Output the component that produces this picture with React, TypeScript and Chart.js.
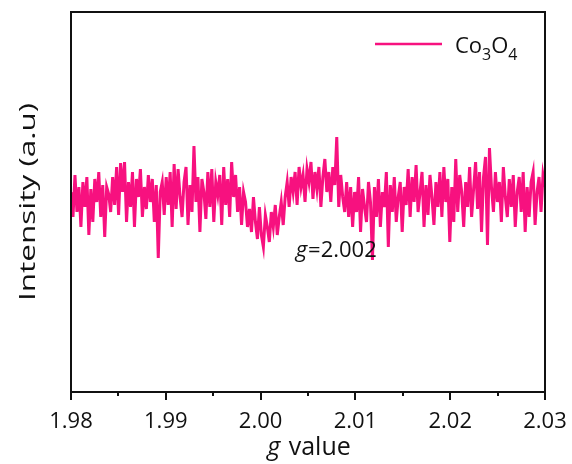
import React, { useEffect, useRef } from "react";
import { Chart, registerables } from "chart.js";

Chart.register(...registerables);

// ---- data ----
const gStart = 1.98;
const gEnd = 2.03;
const xMajorTicks = [1.98, 1.99, 2.0, 2.01, 2.02, 2.03];
const xMinorTicks = [1.985, 1.995, 2.005, 2.015, 2.025];
const seriesName = ["Co", "3", "O", "4"]; // Co3O4 with subscripts
const annotationText = ["g", "=2.002"];
const annotationAt = { g: 2.0037, y: -60 };
const xTitle = ["g", " value"];
const yTitle = "Intensity (a.u)";

// EPR signal (arbitrary units), evenly spaced from gStart to gEnd
const intensity = [
  5, -20, 22, -15, 10, -30, 15, -10, 20, -38,
  8, -25, 18, -5, 25, -20, 12, -40, 10, 3,
  -15, 20, -8, 30, -18, 34, 5, 35, -25, 15,
  -10, 25, -30, 18, 0, 28, -20, 10, -12, 22,
  -5, 18, -25, 12, -61, 5, 15, -18, 20, -8,
  25, -30, 33, -12, 28, 0, -20, 15, 30, -28,
  12, -15, 51, -5, 20, -35, 18, 5, -22, 25,
  -10, 28, -25, 15, 2, 22, -28, 30, -8, 18,
  -20, 35, 0, 22, -15, 10, -28, 5, -5, -30,
  -12, -35, 0, -25, -42, -10, -38, -50, -18, -30,
  -45, -15, -30, -8, -38, -20, -5, -28, 0, 15,
  -10, 20, 5, 25, -8, 30, 10, 22, -5, 28,
  15, 35, -2, 25, 8, 30, -10, 20, 38, 5,
  25, -5, 30, 12, 60, -10, 22, 0, -15, 15,
  -20, 10, -30, 5, -15, 20, -35, 8, -10, -25,
  15, -5, -63, 10, -20, 18, -30, 5, -10, 25,
  -50, 12, -15, 20, -25, 0, 15, -35, 10, -8,
  28, -20, 20, -5, 32, -15, 5, 25, -30, 12,
  -18, 22, 0, -28, 15, -10, 25, -20, 30, -5,
  18, -45, 10, -25, 38, -15, 22, 5, -30, 15,
  -10, 30, -20, 8, 35, -12, 25, -35, 20, 40,
  -48, 49, 10, -15, 25, -5, 15, -25, 30, 0,
  -20, 18, -10, 22, -30, 5, 20, -15, 25, -35,
  10, -20, 15, 25, -28, 5, 20, -15, 22, 10,
];

const LINE_COLOR = "#F7117F";
const FONT = "'Open Sans', sans-serif";

const decorPlugin = {
  id: "decor",
  afterDatasetsDraw(chart: any) {
    const { ctx, chartArea } = chart;
    const xs = chart.scales.x;
    const ys = chart.scales.y;
    const { left, right, top, bottom } = chartArea;
    ctx.save();
    // frame
    ctx.strokeStyle = "#111";
    ctx.lineWidth = 2;
    ctx.strokeRect(left, top, right - left, bottom - top);
    // ticks
    ctx.beginPath();
    xMajorTicks.forEach((v) => {
      const px = Math.round(xs.getPixelForValue(v));
      ctx.moveTo(px, bottom);
      ctx.lineTo(px, bottom + 8);
    });
    xMinorTicks.forEach((v) => {
      const px = Math.round(xs.getPixelForValue(v));
      ctx.moveTo(px, bottom);
      ctx.lineTo(px, bottom + 4);
    });
    ctx.stroke();

    ctx.fillStyle = "#111";
    ctx.textBaseline = "alphabetic";
    ctx.textAlign = "left";

    // x title: italic g + " value"
    const xtFont = `25px ${FONT}`;
    const xtItal = `italic 25px ${FONT}`;
    ctx.font = xtItal;
    const wG = ctx.measureText(xTitle[0]).width;
    ctx.font = xtFont;
    const wRest = ctx.measureText(xTitle[1]).width;
    const cx = (left + right) / 2;
    const sx = cx - (wG + wRest) / 2;
    const xBase = bottom + 63;
    ctx.font = xtItal;
    ctx.fillText(xTitle[0], sx, xBase);
    ctx.font = xtFont;
    ctx.fillText(xTitle[1], sx + wG + 2, xBase);

    // y title (rotated, stretched along text direction)
    ctx.save();
    ctx.font = `22px ${FONT}`;
    const yw = ctx.measureText(yTitle).width;
    const stretch = 198 / yw;
    ctx.translate(29, (top + bottom) / 2);
    ctx.rotate(-Math.PI / 2);
    ctx.scale(stretch, 1);
    ctx.textAlign = "center";
    ctx.textBaseline = "middle";
    ctx.fillText(yTitle, 0, 0);
    ctx.restore();

    // legend
    ctx.strokeStyle = LINE_COLOR;
    ctx.lineWidth = 2.5;
    ctx.beginPath();
    ctx.moveTo(375, 44);
    ctx.lineTo(442, 44);
    ctx.stroke();
    let lx = 455;
    const big = `22px ${FONT}`;
    const small = `16px ${FONT}`;
    seriesName.forEach((s, i) => {
      const sub = i % 2 === 1;
      ctx.font = sub ? small : big;
      ctx.fillText(s, lx, sub ? 60 : 53);
      lx += ctx.measureText(s).width;
    });

    // annotation g=2.002
    const ax = xs.getPixelForValue(annotationAt.g);
    const ay = ys.getPixelForValue(annotationAt.y);
    ctx.font = `italic 22px ${FONT}`;
    ctx.fillText(annotationText[0], ax, ay);
    const wg2 = ctx.measureText(annotationText[0]).width;
    ctx.font = `22px ${FONT}`;
    ctx.fillText(annotationText[1], ax + wg2 + 1, ay);
    ctx.restore();
  },
};

export default function App() {
  const ref = useRef<HTMLCanvasElement | null>(null);
  useEffect(() => {
    if (!ref.current) return;
    const n = intensity.length;
    const step = (gEnd - gStart) / (n - 1);
    const points = intensity.map((v, i) => ({ x: gStart + i * step, y: v }));
    const chart = new Chart(ref.current, {
      type: "line",
      data: {
        datasets: [
          {
            label: "Co3O4",
            data: points,
            borderColor: LINE_COLOR,
            borderWidth: 3,
            pointRadius: 0,
            tension: 0,
            fill: false,
          },
        ],
      },
      options: {
        animation: false,
        responsive: false,
        maintainAspectRatio: false,
        layout: { padding: { left: 71, right: 27, top: 12, bottom: 0 } },
        plugins: { legend: { display: false }, tooltip: { enabled: false } },
        scales: {
          x: {
            type: "linear",
            min: gStart,
            max: gEnd,
            grid: { display: false, drawTicks: false },
            border: { display: false },
            ticks: {
              stepSize: 0.01,
              autoSkip: false,
              maxRotation: 0,
              padding: 17,
              color: "#111",
              font: { family: FONT, size: 22 },
              callback: (v: any) => Number(v).toFixed(2),
            },
            afterFit: (s: any) => {
              s.height = 72;
              s.paddingLeft = 0;
              s.paddingRight = 0;
            },
          },
          y: {
            display: false,
            min: -195,
            max: 185,
          },
        },
      },
      plugins: [decorPlugin],
    });
    return () => chart.destroy();
  }, []);
  return (
    <div style={{ position: "absolute", left: 0, top: 0, width: 572, height: 464 }}>
      <canvas ref={ref} width={572} height={464} style={{ width: 572, height: 464, display: "block" }} />
    </div>
  );
}
